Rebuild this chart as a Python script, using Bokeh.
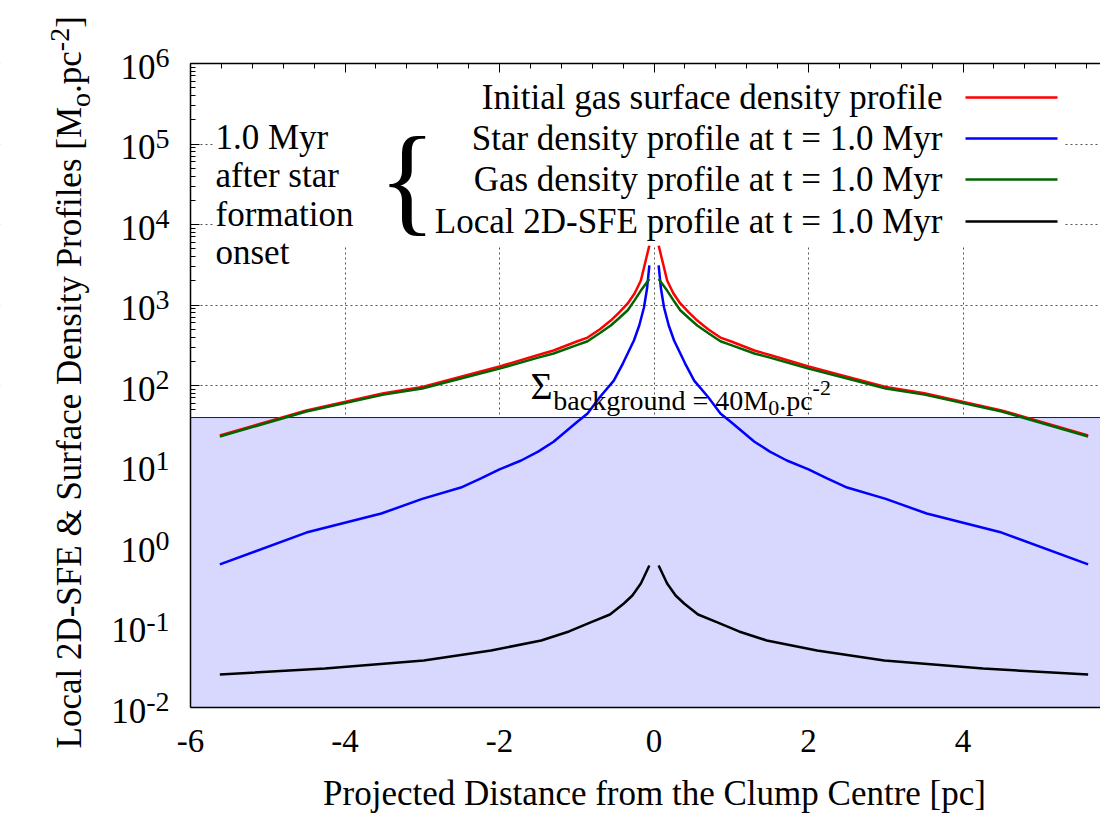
import math
from bokeh.plotting import figure
from bokeh.models import (Label, LinearAxis, LogAxis, LogScale, FixedTicker, Range1d,
                          CustomJSTickFormatter, Grid)
from bokeh.embed import file_html
from bokeh.resources import INLINE

# ---------------- data ----------------
background = 40.0
x_ticks = [-6, -4, -2, 0, 2, 4]
y_exponents = [-2, -1, 0, 1, 2, 3, 4, 5, 6]

# initial gas surface density profile
gas0_x_left = [-5.62, -4.5, -3.5, -3.0, -2.5, -2.0, -1.5, -1.3, -1.0, -0.86, -0.7, -0.56, -0.45, -0.34, -0.25, -0.17, -0.06]
gas0_left = [24, 49, 80, 96, 129, 172, 239, 272, 352, 394, 500, 641, 810, 1045, 1400, 2015, 5500]
gas0_x_right = [0.06, 0.17, 0.25, 0.34, 0.45, 0.56, 0.7, 0.86, 1.0, 1.3, 1.5, 2.0, 2.5, 3.0, 3.5, 4.5, 5.62]
gas0_right = [5500, 2015, 1400, 1045, 810, 641, 500, 394, 352, 272, 239, 172, 129, 96, 80, 49, 24]

# gas density profile at t = 1 Myr
gas_x_left = [-5.62, -4.5, -3.5, -3.0, -2.5, -2.0, -1.5, -1.3, -1.0, -0.86, -0.7, -0.56, -0.45, -0.34, -0.25, -0.17, -0.06]
gas_left = [23.3, 47.5, 77, 92, 122, 162, 222, 250, 318, 355, 450, 556, 690, 860, 1150, 1510, 2100]
gas_x_right = [0.06, 0.17, 0.25, 0.34, 0.45, 0.56, 0.7, 0.86, 1.0, 1.3, 1.5, 2.0, 2.5, 3.0, 3.5, 4.5, 5.62]
gas_right = [2100, 1510, 1150, 860, 690, 556, 450, 355, 318, 250, 222, 162, 122, 92, 77, 47.5, 23.3]

# star density profile at t = 1 Myr
star_x_left = [-5.62, -4.5, -3.53, -3.0, -2.5, -2.24, -2.0, -1.72, -1.5, -1.3, -1.0, -0.86, -0.7, -0.52, -0.4, -0.26, -0.19, -0.13, -0.09, -0.06]
star_left = [0.6, 1.49, 2.57, 3.9, 5.4, 7.0, 9.1, 11.7, 15.1, 20, 35, 45, 72, 115, 190, 362, 560, 930, 1600, 3100]
star_x_right = [0.06, 0.09, 0.13, 0.19, 0.26, 0.4, 0.52, 0.7, 0.86, 1.0, 1.3, 1.5, 1.72, 2.0, 2.24, 2.5, 3.0, 3.53, 4.5, 5.62]
star_right = [3100, 1600, 930, 560, 362, 190, 115, 72, 45, 35, 20, 15.1, 11.7, 9.1, 7.0, 5.4, 3.9, 2.57, 1.49, 0.6]

# local 2D-SFE profile at t = 1 Myr
sfe_x_left = [-5.62, -4.26, -2.98, -2.11, -1.46, -1.1, -0.82, -0.57, -0.39, -0.28, -0.17, -0.06]
sfe_left = [0.0257, 0.0305, 0.0384, 0.051, 0.068, 0.088, 0.114, 0.143, 0.196, 0.246, 0.347, 0.58]
sfe_x_right = [0.06, 0.17, 0.28, 0.39, 0.57, 0.82, 1.1, 1.46, 2.11, 2.98, 4.26, 5.62]
sfe_right = [0.58, 0.347, 0.246, 0.196, 0.143, 0.114, 0.088, 0.068, 0.051, 0.0384, 0.0305, 0.0257]

legend_labels = [
    "Initial gas surface density profile",
    "Star density profile at t = 1.0 Myr",
    "Gas density profile at t = 1.0 Myr",
    "Local 2D-SFE profile at t = 1.0 Myr",
]
note_lines = ["1.0 Myr", "after star", "formation", "onset"]
x_title = "Projected Distance from the Clump Centre [pc]"
y_title_parts = ["Local 2D-SFE & Surface Density Profiles [M", "o", ".pc", "-2", "]"]
sigma_parts = ["\u03a3", "background = 40M", "0", ".pc", "-2"]

# ---------------- layout / style ----------------
FONT = "Liberation Serif"
COLORS = ["#ff0000", "#0000ff", "#006400", "#000000"]
W, H = 1100, 819
FL, FT, FB = 190, 63, 707           # plot box edges in canvas pixels
XS = 77.25                          # pixels per pc
XMIN = -6.0
XEND = XMIN + (W - FL) / XS          # value at the right canvas edge
YMIN, YMAX = 1e-2, 1e6
YS = (FB - FT) / (math.log10(YMAX) - math.log10(YMIN))
BFIX = 0.36                         # baseline correction (fraction of font size)

def px2x(px):
    return XMIN + (px - FL) / XS

def py2y(py):
    return 10 ** (math.log10(YMAX) - (py - FT) / YS)

def ypx(v):
    return FT + (math.log10(YMAX) - math.log10(v)) * YS

TW = {' ': 250, '&': 778, '-': 333, '.': 250, '=': 564, '[': 333, ']': 333,
      'A': 722, 'C': 667, 'D': 722, 'E': 611, 'F': 556, 'G': 722, 'I': 333,
      'L': 611, 'M': 889, 'P': 556, 'S': 556, 'T': 611,
      'a': 444, 'b': 500, 'c': 444, 'd': 500, 'e': 444, 'f': 333, 'g': 500,
      'h': 500, 'i': 278, 'j': 278, 'k': 500, 'l': 278, 'm': 778, 'n': 500,
      'o': 500, 'p': 500, 'r': 333, 's': 389, 't': 278, 'u': 500, 'y': 500,
      '\u03a3': 600}

def tw(s, size):
    return sum(TW.get(c, 500) for c in s) * size / 1000.0

# the frame covers the whole canvas; axes are pinned to the plot box
p = figure(width=W, height=H, x_range=Range1d(px2x(0), px2x(W)), y_range=Range1d(py2y(H), py2y(0)),
           y_axis_type=None, x_axis_type=None, output_backend="svg", toolbar_location=None,
           min_border=0)
p.y_scale = LogScale()
p.outline_line_color = None
p.background_fill_color = "white"
p.border_fill_color = "white"
p.xgrid.visible = False
p.ygrid.visible = False

def lab(text, px, py, size, align="left", angle=0.0):
    if angle == 0.0:
        py = py - BFIX * size
    else:
        px = px - BFIX * size
    p.add_layout(Label(x=XMIN, y=YMIN, x_offset=px - FL, y_offset=FB - py, text=text,
                       text_font=FONT, text_font_size=f"{size}px", text_align=align,
                       text_baseline="alphabetic", angle=angle, text_color="black"))

blank = CustomJSTickFormatter(code="return '';")

# tickers
ymaj = [10.0 ** e for e in y_exponents if 10.0 ** e > background]
ymin_t = [m * 10.0 ** e for e in y_exponents for m in range(2, 10) if background < m * 10.0 ** e < YMAX]
yticker = FixedTicker(ticks=ymaj, minor_ticks=ymin_t)
xminor = [round(XMIN + 0.4 * k, 2) for k in range(0, 30) if XMIN + 0.4 * k < XEND]
xticker = FixedTicker(ticks=x_ticks, minor_ticks=xminor)

left = LogAxis(ticker=yticker, formatter=blank, fixed_location=XMIN, bounds=(YMIN, YMAX))
left.axis_line_color = "black"; left.axis_line_width = 1.5
left.major_tick_in = 9; left.major_tick_out = 0; left.minor_tick_in = 5; left.minor_tick_out = 0
p.add_layout(left, "left")

bottom = LinearAxis(ticker=FixedTicker(ticks=x_ticks), fixed_location=YMIN, bounds=(XMIN, XEND + 1),
                    formatter=CustomJSTickFormatter(code="return tick.toFixed(0);"))
bottom.axis_line_color = "black"; bottom.axis_line_width = 1.5
bottom.major_tick_in = 0; bottom.major_tick_out = 0; bottom.minor_tick_in = 0; bottom.minor_tick_out = 0
bottom.major_label_text_font = FONT
bottom.major_label_text_font_size = "33px"
bottom.major_label_text_color = "black"
bottom.major_label_standoff = 22
p.add_layout(bottom, "below")

top = LinearAxis(ticker=xticker, formatter=blank, fixed_location=YMAX, bounds=(XMIN, XEND + 1))
top.axis_line_color = "black"; top.axis_line_width = 1.5
top.major_tick_in = 9; top.major_tick_out = 0; top.minor_tick_in = 5; top.minor_tick_out = 0
top.major_label_standoff = 0
p.add_layout(top, "above")

xg = Grid(dimension=0, ticker=FixedTicker(ticks=x_ticks))
yg = Grid(dimension=1, ticker=yticker)
for g in (xg, yg):
    g.grid_line_color = "#555555"
    g.grid_line_dash = "2 3"
    g.grid_line_width = 1
    p.add_layout(g)

# shaded background region
p.quad(left=XMIN, right=XEND + 1, bottom=YMIN, top=background,
       fill_color="#d8d8ff", line_color="#0000ff", line_width=1)

# curves
series = [
    (gas0_x_left, gas0_left, gas0_x_right, gas0_right, COLORS[0]),
    (star_x_left, star_left, star_x_right, star_right, COLORS[1]),
    (gas_x_left, gas_left, gas_x_right, gas_right, COLORS[2]),
    (sfe_x_left, sfe_left, sfe_x_right, sfe_right, COLORS[3]),
]
for xl, yl, xr, yr, c in series:
    p.line(xl, yl, line_color=c, line_width=2.5)
    p.line(xr, yr, line_color=c, line_width=2.5)

# opaque key box
p.quad(left=px2x(213), right=px2x(1063), bottom=py2y(245), top=YMAX,
       fill_color="white", line_color=None)

# white margins outside the plot box (hide grid overflow)
lo_x, hi_x = px2x(-20), px2x(W + 20)
lo_y, hi_y = py2y(H + 20), py2y(-20)
p.quad(left=[lo_x, lo_x, lo_x], right=[XMIN, hi_x, hi_x],
       bottom=[lo_y, YMAX, lo_y], top=[hi_y, hi_y, YMIN],
       fill_color="white", line_color=None)

# key
rows = [98, 139, 180, 222]
for text, cy, c in zip(legend_labels, rows, COLORS):
    lab(text, 942, cy + 12, 35, align="right")
    p.segment(x0=[px2x(965)], y0=[py2y(cy - 1)], x1=[px2x(1057)], y1=[py2y(cy - 1)],
              line_color=c, line_width=2.5)

# note + brace
for t, b in zip(note_lines, [150, 188, 227, 265]):
    lab(t, 215, b, 35)
lab("{", 378, 222, 120)

# sigma background label
sig_sizes = [38, 28, 22, 28, 22]
sig_base = [399, 410, 415, 410, 395]
cx = 530
for t, s, b in zip(sigma_parts, sig_sizes, sig_base):
    lab(t, cx, b, s)
    cx += tw(t, s)

# y tick labels
for e in y_exponents:
    ty = ypx(10.0 ** e)
    es = str(e)
    ew = tw(es, 28)
    lab("10", 169 - ew, ty + 16, 35, align="right")
    lab(es, 169 - ew, ty + 5, 28)

# axis titles
lab(x_title, 654, 806, 35, align="center")
yt_sizes = [35, 28, 35, 28, 35]
yt_shift = [0, 8, 0, -12, 0]
cy = 748
for t, s, sh in zip(y_title_parts, yt_sizes, yt_shift):
    lab(t, 82 + sh, cy, s, angle=math.pi / 2)
    cy -= tw(t, s)

open("out.html", "w").write(file_html(p, INLINE))
